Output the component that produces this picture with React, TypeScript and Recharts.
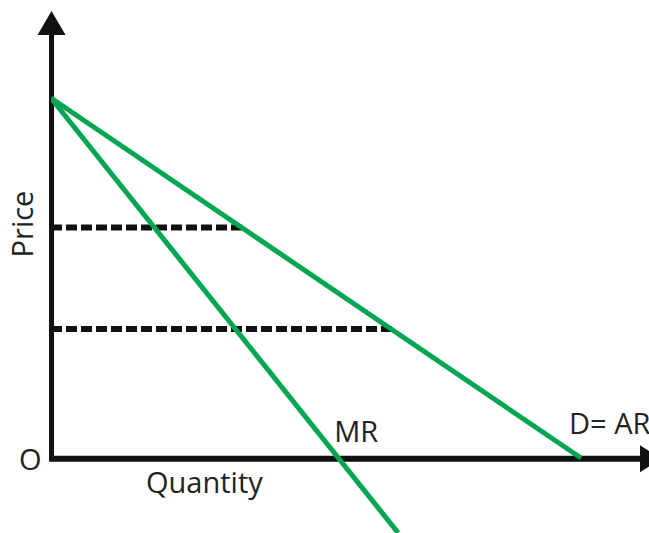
import React from "react";
import { LineChart, Line, XAxis, YAxis, ReferenceLine, ReferenceDot } from "recharts";

// Quantity / price units
const demand = [
  { q: 0, p: 10 },
  { q: 10, p: 0 },
];
const marginalRevenue = [
  { q: 0, p: 10 },
  { q: 6.55, p: -2.08 },
];
const priceLevels = [6.4, 3.58];
const quantityLevels = [3.6, 6.45];

const Q_MAX = 11.283;
const P_MIN = -2.0833;
const P_MAX = 12.5;
const Y_ARROW_TIP = 12.42;
const X_ARROW_TIP = 11.51;

const GREEN = "#00a651";
const BLACK = "#111111";
const TEXT = "#222222";
const FONT = "'Open Sans', sans-serif";
const FS = 29;

const dashData = priceLevels.map((p, i) => [
  { q: 0, p },
  { q: quantityLevels[i], p },
]);

const UpArrow = (props: any) => {
  const { cx, cy } = props;
  return <polygon points={`${cx},${cy} ${cx - 14},${cy + 24} ${cx + 14},${cy + 24}`} fill={BLACK} />;
};
const RightArrow = (props: any) => {
  const { cx, cy } = props;
  return <polygon points={`${cx},${cy} ${cx - 21},${cy - 13.5} ${cx - 21},${cy + 13.5}`} fill={BLACK} />;
};

const makeText = (value: string, dx: number, dy: number, anchor: string = "start") => (props: any) => {
  const { cx, cy } = props;
  return (
    <text x={cx + dx} y={cy + dy} fontFamily={FONT} fontSize={FS} fill={TEXT} textAnchor={anchor}>
      {value}
    </text>
  );
};

const PriceText = (props: any) => {
  const { cx, cy } = props;
  const x = cx - 18;
  const y = cy;
  return (
    <text x={x} y={y} fontFamily={FONT} fontSize={FS} fill={TEXT} textAnchor="middle" transform={`rotate(-90, ${x}, ${y})`}>
      Price
    </text>
  );
};

export default function App() {
  return (
    <div style={{ position: "absolute", left: 0, top: 0, width: 649, height: 533, background: "#fff" }}>
      <LineChart width={649} height={533} margin={{ top: 8, right: 0, bottom: 0, left: 51 }}>
        <XAxis type="number" dataKey="q" domain={[0, Q_MAX]} hide allowDataOverflow />
        <YAxis type="number" dataKey="p" domain={[P_MIN, P_MAX]} hide allowDataOverflow />

        {/* axes */}
        <ReferenceLine
          segment={[{ x: 0.01, y: -0.09 }, { x: 0.01, y: 11.85 }]}
          stroke={BLACK}
          strokeWidth={5}
          ifOverflow="visible"
        />
        <ReferenceLine
          segment={[{ x: -0.03, y: -0.02 }, { x: 11.15, y: -0.02 }]}
          stroke={BLACK}
          strokeWidth={6}
          ifOverflow="visible"
        />
        <ReferenceDot x={0.01} y={Y_ARROW_TIP} r={0} shape={UpArrow} ifOverflow="visible" />
        <ReferenceDot x={X_ARROW_TIP} y={-0.02} r={0} shape={RightArrow} ifOverflow="visible" />

        {/* dashed price levels */}
        {dashData.map((d, i) => (
          <Line
            key={i}
            data={d}
            dataKey="p"
            stroke={BLACK}
            strokeWidth={6}
            strokeDasharray="11 4"
            dot={false}
            isAnimationActive={false}
          />
        ))}

        <Line data={demand} dataKey="p" stroke={GREEN} strokeWidth={5} dot={false} isAnimationActive={false} />
        <Line data={marginalRevenue} dataKey="p" stroke={GREEN} strokeWidth={5} dot={false} isAnimationActive={false} />

        {/* labels */}
        <ReferenceDot x={0} y={0} r={0} shape={makeText("O", -32, 12)} ifOverflow="visible" />
        <ReferenceDot x={0} y={0} r={0} shape={makeText("Quantity", 95, 35)} ifOverflow="visible" />
        <ReferenceDot x={5.4} y={0} r={0} shape={makeText("MR", -3, -16)} ifOverflow="visible" />
        <ReferenceDot x={10} y={0} r={0} shape={makeText("D= AR", -12, -24)} ifOverflow="visible" />
        <ReferenceDot x={0} y={6.5} r={0} shape={PriceText} ifOverflow="visible" />
      </LineChart>
    </div>
  );
}
